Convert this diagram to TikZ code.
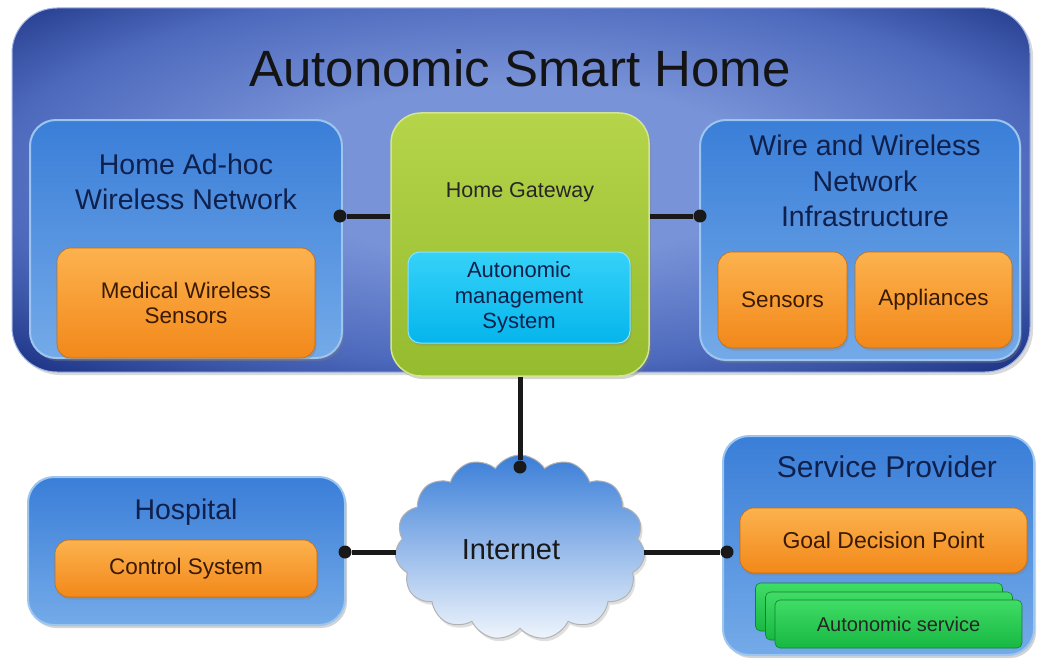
\documentclass[tikz,border=0pt]{standalone}
\usepackage{fontspec}
\setmainfont{Liberation Sans}
\usepackage{tikz}
\usetikzlibrary{shapes.symbols}
\usetikzlibrary{shadows}
\definecolor{homein}{HTML}{7993D8}
\definecolor{homemid}{HTML}{4D69BC}
\definecolor{homeout}{HTML}{213889}
\definecolor{boxtop}{HTML}{3A7ED8}
\definecolor{boxbot}{HTML}{74AAE8}
\definecolor{boxline}{HTML}{9CC6F0}
\definecolor{orangetop}{HTML}{FCB24E}
\definecolor{orangebot}{HTML}{F2881A}
\definecolor{gwtop}{HTML}{B5D44A}
\definecolor{gwbot}{HTML}{95BB2E}
\definecolor{amstop}{HTML}{35D2F8}
\definecolor{amsbot}{HTML}{05B5EC}
\definecolor{svctop}{HTML}{40DC66}
\definecolor{svcbot}{HTML}{17B842}
\definecolor{headtext}{HTML}{10204C}
\definecolor{browntext}{HTML}{3A1A02}
\pgfdeclareradialshading{homeglow}{\pgfpoint{0bp}{3bp}}{color(0bp)=(homein); color(12bp)=(homein); color(26bp)=(homemid); color(35bp)=(homeout); color(70bp)=(homeout)}
\tikzset{
    home/.style={shading=homeglow, draw=homein!70!white, line width=1pt, rounded corners=45pt, inner sep=0pt, drop shadow={opacity=0.3, shadow xshift=3pt, shadow yshift=-3pt}},
    bluebox/.style={top color=boxtop, bottom color=boxbot, draw=boxline, line width=2pt, rounded corners=26pt, inner sep=0pt, drop shadow={opacity=0.35, shadow xshift=2pt, shadow yshift=-3pt}},
    orangebox/.style={top color=orangetop, bottom color=orangebot, draw=orangebot!80!black, line width=0.6pt, rounded corners=14pt, inner sep=0pt, text=browntext, align=center, font=\fontsize{22.5}{25.5}\selectfont, drop shadow={opacity=0.35, shadow xshift=1.5pt, shadow yshift=-2.5pt}},
    gwbox/.style={top color=gwtop, bottom color=gwbot, draw=gwtop!60!white, line width=1.5pt, rounded corners=30pt, inner sep=0pt, drop shadow={opacity=0.35, shadow xshift=2pt, shadow yshift=-3pt}},
    amsbox/.style={top color=amstop, bottom color=amsbot, draw=amstop!60!white, line width=1pt, rounded corners=12pt, inner sep=0pt, text=headtext, align=center, font=\fontsize{22}{25.5}\selectfont, drop shadow={opacity=0.3, shadow xshift=1.5pt, shadow yshift=-2.5pt}},
    svcbox/.style={top color=svctop, bottom color=svcbot, draw=svcbot!70!black, line width=0.6pt, rounded corners=5pt, inner sep=0pt, minimum width=247, minimum height=48, text=black!85, font=\fontsize{20}{24}\selectfont},
    heading/.style={text=headtext, align=center, inner sep=0pt, font=\fontsize{28.5}{35.5}\selectfont},
    link/.style={line width=5pt, black!90},
    dot/.style={shape=circle, fill=black!90, minimum size=13pt, inner sep=0pt}
}

\begin{document}
\begin{tikzpicture}[x=1pt, y=-1pt]
    \useasboundingbox (0,0) rectangle (1037,661);

    % smart home
    \node[home, minimum width=1018, minimum height=364] (home) at (521,190) {};
    \node[text=black!92, inner sep=0pt, font=\fontsize{51}{60}\selectfont] (title) at (520,68) {Autonomic Smart Home};

    \node[bluebox, minimum width=312, minimum height=238] (adhoc) at (186,239) {};
    \node[heading] (adhoctxt) at (186,182) {Home Ad-hoc\\Wireless Network};
    \node[orangebox, minimum width=258, minimum height=110] (med) at (186,303) {Medical Wireless\\Sensors};

    \node[gwbox, minimum width=258, minimum height=263] (gw) at (520,244.5) {};
    \node[text=black!85, inner sep=0pt, font=\fontsize{21.5}{25}\selectfont] (gwtxt) at (520,192) {Home Gateway};
    \node[amsbox, minimum width=222, minimum height=91] (ams) at (519,297.5) {Autonomic\\management\\System};

    \node[bluebox, minimum width=320, minimum height=240] (wire) at (860,240) {};
    \node[heading] (wiretxt) at (865,181) {Wire and Wireless\\Network\\Infrastructure};
    \node[orangebox, minimum width=129, minimum height=96] (sens) at (782.5,300) {Sensors};
    \node[orangebox, minimum width=157, minimum height=96] (appl) at (933.5,300) {Appliances};

    % outside
    \node[bluebox, minimum width=317, minimum height=148] (hosp) at (186.5,551) {};
    \node[heading] (hosptxt) at (186,512) {Hospital};
    \node[orangebox, minimum width=262, minimum height=57] (ctrl) at (186,568.5) {Control System};

    \node[shape=cloud, cloud puffs=15, cloud puff arc=115, cloud ignores aspect, minimum width=250, minimum height=185, top color=boxtop, bottom color=white!92!boxtop, draw=black!30, line width=1pt, inner sep=0pt, drop shadow={opacity=0.25, shadow xshift=2pt, shadow yshift=-3pt}] (inet) at (520,547.5) {};
    \node[text=black!90, inner sep=0pt, font=\fontsize{29}{34}\selectfont] (inettxt) at (511,550) {Internet};

    \node[bluebox, minimum width=311, minimum height=219] (sp) at (878.5,545.5) {};
    \node[heading, font=\fontsize{30}{36}\selectfont] (sptxt) at (887,467) {Service Provider};
    \node[orangebox, minimum width=287, minimum height=65, font=\fontsize{23}{27}\selectfont] (gdp) at (883.5,540.5) {Goal Decision Point};
    \node[svcbox] (svc3) at (879,607) {};
    \node[svcbox] (svc2) at (889,616) {};
    \node[svcbox] (svc1) at (898.5,624) {Autonomic service};

    % links
    \node[dot] (dl) at (340,216) {};
    \node[dot] (dr) at (700,216) {};
    \node[dot] (dc) at (520,467) {};
    \node[dot] (dh) at (345,552) {};
    \node[dot] (ds) at (727,552) {};
    \draw[link] (dl) -- (dl -| gw.west);
    \draw[link] (gw.east |- dr) -- (dr);
    \draw[link] (gw.south) -- (dc);
    \draw[link] (dh) -- (dh -| inet.west);
    \draw[link] (dh -| inet.east) -- (ds);

\end{tikzpicture}
\end{document}
